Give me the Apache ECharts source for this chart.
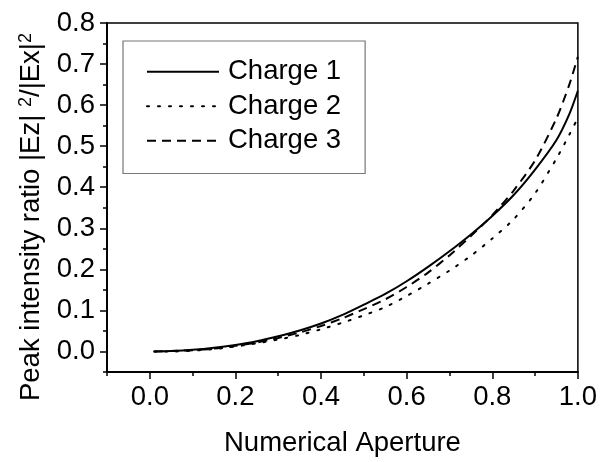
<!DOCTYPE html>
<html>
<head>
<meta charset="utf-8">
<script src="https://cdn.jsdelivr.net/npm/echarts@6/dist/echarts.min.js"></script>
<style>html,body{margin:0;padding:0;background:#fff}#c{width:600px;height:462px}</style>
</head>
<body>
<div id="c"></div>
<script>
var apertures = [0.01,0.05,0.1,0.15,0.2,0.25,0.3,0.35,0.4,0.45,0.5,0.55,0.6,0.65,0.7,0.75,0.8,0.85,0.9,0.95,0.98,1.0];
var charge1 = [0.000,0.001,0.004,0.009,0.016,0.025,0.037,0.051,0.068,0.089,0.114,0.140,0.171,0.206,0.244,0.285,0.330,0.381,0.443,0.515,0.578,0.635];
var charge2 = [0.000,0.000,0.002,0.006,0.012,0.020,0.029,0.040,0.054,0.070,0.088,0.108,0.135,0.165,0.197,0.233,0.275,0.322,0.385,0.470,0.528,0.569];
var charge3 = [0.000,0.001,0.003,0.007,0.014,0.022,0.033,0.046,0.062,0.081,0.103,0.127,0.157,0.192,0.234,0.281,0.332,0.392,0.465,0.568,0.650,0.718];
var seriesNames = ['Charge 1','Charge 2','Charge 3'];
var xMajorTicks = [0.0,0.2,0.4,0.6,0.8,1.0];
var xMinorTicks = [-0.1,0.1,0.3,0.5,0.7,0.9];
var yMajorTicks = [0.0,0.1,0.2,0.3,0.4,0.5,0.6,0.7,0.8];
var yMinorTicks = [-0.05,0.05,0.15,0.25,0.35,0.45,0.55,0.65,0.75];
var xTitle = 'Numerical Aperture';

function pairs(ys){ return apertures.map(function(x,i){ return [x, ys[i]]; }); }

var FONT = 'Liberation Sans, Arial, sans-serif';
var FS = 27.5;
var chart = echarts.init(document.getElementById('c'), null, {renderer:'canvas'});
var axisCommon = {
  axisLine:{show:true, onZero:false, lineStyle:{color:'#000', width:1.5}},
  splitLine:{show:false}
};
chart.setOption({
  animation:false,
  backgroundColor:'#fff',
  grid:{left:107, right:22, top:23, bottom:86, show:true, borderColor:'#000', borderWidth:1.5, backgroundColor:'transparent'},
  xAxis:[
    Object.assign({type:'value', min:-0.1, max:1.0, position:'bottom',
      name:xTitle, nameLocation:'middle', nameGap:57,
      nameTextStyle:{fontSize:FS, fontFamily:FONT, color:'#000'},
      axisTick:{show:true, inside:false, length:7, customValues:xMajorTicks, lineStyle:{color:'#000', width:1.5}},
      axisLabel:{show:true, margin:11, fontSize:FS, fontFamily:FONT, color:'#000', customValues:xMajorTicks,
        formatter:function(v){return v.toFixed(1);}}
    }, axisCommon),
    Object.assign({type:'value', min:-0.1, max:1.0, position:'bottom',
      axisTick:{show:true, inside:false, length:4, customValues:xMinorTicks, lineStyle:{color:'#000', width:1.5}},
      axisLabel:{show:false}
    }, axisCommon)
  ],
  yAxis:[
    Object.assign({type:'value', min:-0.05, max:0.8, position:'left',
      axisTick:{show:true, inside:false, length:7, customValues:yMajorTicks, lineStyle:{color:'#000', width:1.5}},
      axisLabel:{show:true, margin:12, fontSize:FS, fontFamily:FONT, color:'#000', customValues:yMajorTicks,
        formatter:function(v){return v.toFixed(1);}}
    }, axisCommon),
    Object.assign({type:'value', min:-0.05, max:0.8, position:'left',
      axisTick:{show:true, inside:false, length:4, customValues:yMinorTicks, lineStyle:{color:'#000', width:1.5}},
      axisLabel:{show:false}
    }, axisCommon)
  ],
  legend:{
    left:123, top:41, orient:'vertical',
    padding:[16,24,18,23],
    borderColor:'#777', borderWidth:1.2,
    itemWidth:72, itemHeight:14, itemGap:5,
    itemStyle:{opacity:0},
    textStyle:{fontSize:FS, fontFamily:FONT, color:'#000', padding:[0,0,0,4], lineHeight:29.5},
    data:seriesNames
  },
  graphic:[{
    type:'text', x:31, y:217, rotation:Math.PI/2,
    style:{
      text:'{a|Peak intensity ratio |Ez| }{s|2}{a|/|Ex|}{s|2}',
      align:'center', verticalAlign:'middle',
      rich:{
        a:{fontSize:FS, fontFamily:FONT, fill:'#000'},
        s:{fontSize:18, fontFamily:FONT, fill:'#000', verticalAlign:'top'}
      }
    }
  }],
  series:[
    {name:seriesNames[0], type:'line', data:pairs(charge1), showSymbol:false, symbol:'none', smooth:0.25,
      lineStyle:{color:'#000', width:2, type:'solid'}, itemStyle:{color:'#000'}},
    {name:seriesNames[1], type:'line', data:pairs(charge2), showSymbol:false, symbol:'none', smooth:0.25,
      lineStyle:{color:'#000', width:2, type:[2,9], cap:'round'}, itemStyle:{color:'#000'}},
    {name:seriesNames[2], type:'line', data:pairs(charge3), showSymbol:false, symbol:'none', smooth:0.25,
      lineStyle:{color:'#000', width:2, type:[9,6]}, itemStyle:{color:'#000'}}
  ]
});
</script>
</body>
</html>
